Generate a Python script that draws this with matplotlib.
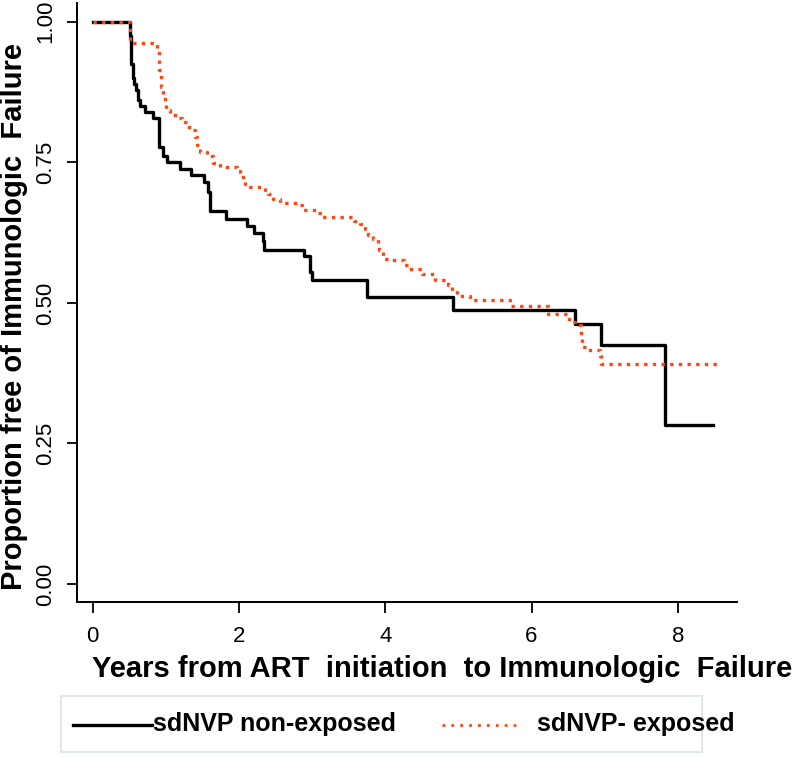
import matplotlib
matplotlib.use("Agg")
import matplotlib.pyplot as plt
from matplotlib.lines import Line2D
from matplotlib.patches import Rectangle

plt.rcParams["font.family"] = ["Liberation Sans", "DejaVu Sans"]

# Kaplan-Meier steps (years, proportion free)
t_unexp = [0, 0.51, 0.52, 0.53, 0.545, 0.555, 0.57, 0.59, 0.62, 0.64, 0.715,
           0.83, 0.90, 0.905, 0.96, 0.965, 1.01, 1.19, 1.35, 1.52, 1.57, 1.58,
           1.60, 1.82, 2.11, 2.20, 2.33, 2.34, 2.89, 2.97, 3.00, 3.75, 4.93,
           6.60, 6.95, 7.82, 8.48]
s_unexp = [1.0, 0.975, 0.95, 0.925, 0.91, 0.90, 0.89, 0.878, 0.861, 0.85, 0.84,
           0.828, 0.813, 0.778, 0.775, 0.761, 0.751, 0.739, 0.727, 0.715, 0.712, 0.698,
           0.664, 0.650, 0.637, 0.624, 0.610, 0.595, 0.583, 0.555, 0.541, 0.511, 0.488,
           0.462, 0.425, 0.283, 0.283]

t_exp = [0, 0.51, 0.885, 0.90, 0.91, 0.935, 0.965, 0.99, 1.00, 1.06, 1.15,
         1.22, 1.29, 1.35, 1.40, 1.43, 1.47, 1.56, 1.65, 1.74, 1.97, 2.02,
         2.08, 2.15, 2.36, 2.40, 2.47, 2.56, 2.79, 2.86, 3.06, 3.13, 3.57,
         3.66, 3.73, 3.77, 3.83, 3.90, 3.92, 3.97, 4.07, 4.25, 4.32, 4.50,
         4.68, 4.86, 4.91, 4.98, 5.16, 5.71, 6.23, 6.51, 6.60, 6.67, 6.68,
         6.69, 6.76, 6.94, 6.95, 8.58]
s_exp = [1.0, 0.962, 0.95, 0.932, 0.914, 0.884, 0.869, 0.858, 0.843, 0.834, 0.828,
         0.822, 0.813, 0.807, 0.795, 0.781, 0.769, 0.761, 0.748, 0.742, 0.735, 0.724,
         0.712, 0.707, 0.700, 0.693, 0.684, 0.678, 0.675, 0.666, 0.660, 0.653, 0.646,
         0.640, 0.632, 0.621, 0.613, 0.605, 0.594, 0.579, 0.576, 0.567, 0.561, 0.551,
         0.541, 0.532, 0.520, 0.513, 0.505, 0.494, 0.480, 0.466, 0.461, 0.453, 0.437,
         0.422, 0.417, 0.405, 0.391, 0.391]

x_ticks = [0, 2, 4, 6, 8]
y_ticks = [0.0, 0.25, 0.5, 0.75, 1.0]
y_ticklabels = ["0.00", "0.25", "0.50", "0.75", "1.00"]

labels = ["sdNVP non-exposed", "sdNVP- exposed"]
black = "#000000"
orange = "#ff4510"

fig = plt.figure(figsize=(8, 7.57), dpi=100)
W, H = 800, 757
ax = fig.add_axes([77 / W, 1 - 601.5 / H, 660 / W, 598 / H])

ax.plot(t_unexp, s_unexp, drawstyle="steps-post", color=black, lw=2.4)
ax.plot(t_exp, s_exp, drawstyle="steps-post", color=orange, lw=2.4,
        linestyle=(0, (1, 1.6)))

ax.set_xlim(-0.215, 8.81)
ax.set_ylim(-0.031, 1.0325)
ax.set_xticks(x_ticks)
ax.set_yticks(y_ticks)
ax.set_yticklabels(y_ticklabels, rotation=90, va="center")
ax.tick_params(axis="x", length=8, width=1.3, pad=10, labelsize=16)
ax.tick_params(axis="y", length=7.2, width=1.3, pad=8, labelsize=16)
for side in ("top", "right"):
    ax.spines[side].set_visible(False)
for side in ("left", "bottom"):
    ax.spines[side].set_linewidth(1.4)

# axis titles
fig.text(442 / W, 1 - 669 / H, "Years from ART  initiation  to Immunologic  Failure",
         ha="center", va="center", fontsize=21, fontweight="bold")
fig.text(14 / W, 1 - 317 / H, "Proportion free of Immunologic  Failure",
         ha="center", va="center", rotation=90, fontsize=21, fontweight="bold")

# legend box below the plot
fig.add_artist(Rectangle((61 / W, 1 - 752 / H), 641 / W, 56 / H,
                         transform=fig.transFigure, fill=False,
                         edgecolor="#dde8ee", lw=1.4))
fig.add_artist(Line2D([73 / W, 152 / W], [1 - 724.5 / H] * 2,
                      transform=fig.transFigure, color=black, lw=2.4))
fig.add_artist(Line2D([442 / W, 517 / W], [1 - 724.5 / H] * 2,
                      transform=fig.transFigure, color=orange, lw=2.0,
                      linestyle=(0, (1, 2.2))))
fig.text(153 / W, 1 - 724.5 / H, labels[0], ha="left", va="center",
         fontsize=18, fontweight="bold")
fig.text(537 / W, 1 - 724.5 / H, labels[1], ha="left", va="center",
         fontsize=18, fontweight="bold")

fig.savefig("out.png", dpi=100, facecolor="white")
